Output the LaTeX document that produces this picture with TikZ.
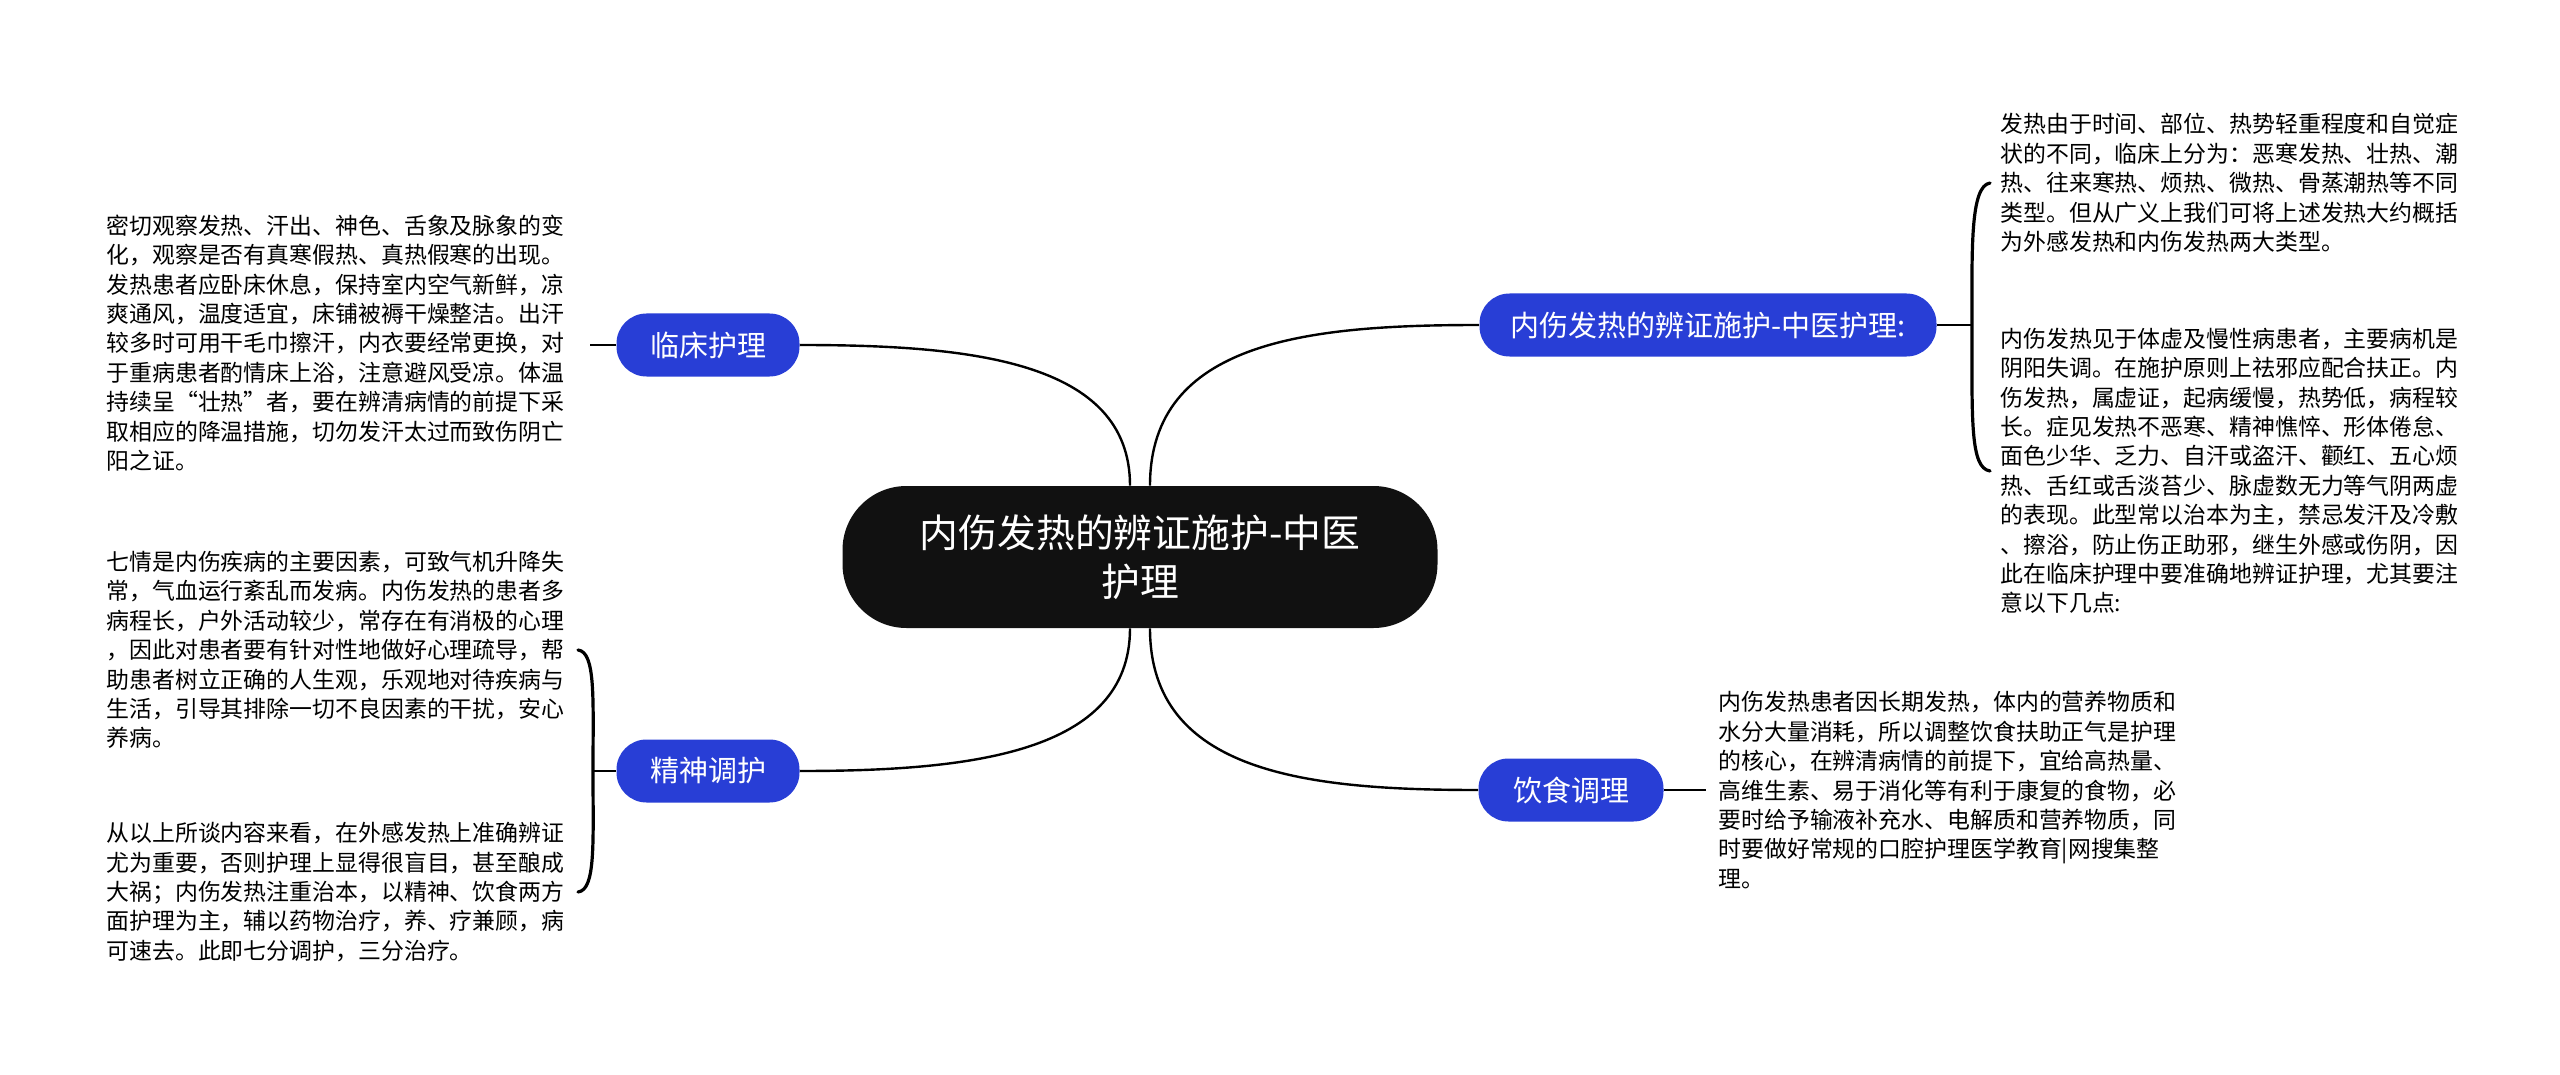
\documentclass[tikz,border=0pt]{standalone}
\usepackage{fontspec}
\setmainfont{Noto Sans CJK SC}
\usetikzlibrary{calc}
\definecolor{nodeblue}{RGB}{40,62,214}
\definecolor{rootblack}{RGB}{17,17,17}
\begin{document}
\begin{tikzpicture}[x=0.5pt,y=-0.5pt,
  rootnode/.style={fill=rootblack, rounded corners=32pt, minimum width=297.5pt, minimum height=71pt,
    text=white, font=\fontsize{19.4pt}{24.5pt}\selectfont, align=center, inner sep=0pt},
  topicnode/.style={fill=nodeblue, text=white, rounded corners=15pt, minimum height=31.5pt,
    inner sep=0pt, font=\fontsize{14.5pt}{17pt}\selectfont},
  leaftext/.style={anchor=west, align=left, inner sep=0pt, text=black,
    font=\fontsize{11.45pt}{14.7pt}\selectfont},
  linkline/.style={draw=black, line width=1.2pt},
  braceline/.style={draw=black, line width=1.6pt, line cap=round}
]
\useasboundingbox (0,0) rectangle (2560,1075);

% main nodes
\node[rootnode] (root) at (1140,557) {内伤发热的辨证施护-中医\\护理};
\node[topicnode, minimum width=91.5pt] (t1) at (708,345) {临床护理};
\node[topicnode, minimum width=91.5pt] (t2) at (708,771) {精神调护};
\node[topicnode, minimum width=228.5pt] (t3) at (1708,325) {内伤发热的辨证施护-中医护理:};
\node[topicnode, minimum width=92.5pt] (t4) at (1571,790) {饮食调理};

% leaf texts
\node[leaftext] (l1) at (106,343) {密切观察发热、汗出、神色、舌象及脉象的变\\
化，观察是否有真寒假热、真热假寒的出现。\\
发热患者应卧床休息，保持室内空气新鲜，凉\\
爽通风，温度适宜，床铺被褥干燥整洁。出汗\\
较多时可用干毛巾擦汗，内衣要经常更换，对\\
于重病患者酌情床上浴，注意避风受凉。体温\\
持续呈“壮热”者，要在辨清病情的前提下采\\
取相应的降温措施，切勿发汗太过而致伤阴亡\\
阳之证。};

\node[leaftext] (l2) at (106,650) {七情是内伤疾病的主要因素，可致气机升降失\\
常，气血运行紊乱而发病。内伤发热的患者多\\
病程长，户外活动较少，常存在有消极的心理\\
，因此对患者要有针对性地做好心理疏导，帮\\
助患者树立正确的人生观，乐观地对待疾病与\\
生活，引导其排除一切不良因素的干扰，安心\\
养病。};

\node[leaftext] (l3) at (106,892) {从以上所谈内容来看，在外感发热上准确辨证\\
尤为重要，否则护理上显得很盲目，甚至酿成\\
大祸；内伤发热注重治本，以精神、饮食两方\\
面护理为主，辅以药物治疗，养、疗兼顾，病\\
可速去。此即七分调护，三分治疗。};

\node[leaftext] (r1) at (2000,183) {发热由于时间、部位、热势轻重程度和自觉症\\
状的不同，临床上分为：恶寒发热、壮热、潮\\
热、往来寒热、烦热、微热、骨蒸潮热等不同\\
类型。但从广义上我们可将上述发热大约概括\\
为外感发热和内伤发热两大类型。};

\node[leaftext] (r2) at (2000,471) {内伤发热见于体虚及慢性病患者，主要病机是\\
阴阳失调。在施护原则上祛邪应配合扶正。内\\
伤发热，属虚证，起病缓慢，热势低，病程较\\
长。症见发热不恶寒、精神憔悴、形体倦怠、\\
面色少华、乏力、自汗或盗汗、颧红、五心烦\\
热、舌红或舌淡苔少、脉虚数无力等气阴两虚\\
的表现。此型常以治本为主，禁忌发汗及冷敷\\
、擦浴，防止伤正助邪，继生外感或伤阴，因\\
此在临床护理中要准确地辨证护理，尤其要注\\
意以下几点:};

\node[leaftext] (r3) at (1718,790) {内伤发热患者因长期发热，体内的营养物质和\\
水分大量消耗，所以调整饮食扶助正气是护理\\
的核心，在辨清病情的前提下，宜给高热量、\\
高维生素、易于消化等有利于康复的食物，必\\
要时给予输液补充水、电解质和营养物质，同\\
时要做好常规的口腔护理医学教育|网搜集整\\
理。};

% connector anchor points
\coordinate (rtl) at ($(root.north)+(-10,0)$);
\coordinate (rtr) at ($(root.north)+(10,0)$);
\coordinate (rbl) at ($(root.south)+(-10,0)$);
\coordinate (rbr) at ($(root.south)+(10,0)$);

% main connectors
\draw[linkline] (rtl) .. controls ($(rtl)+(0,-125)$) and ($(t1.east)+(170,0)$) .. (t1.east);
\draw[linkline] (rbl) .. controls ($(rbl)+(0,125)$) and ($(t2.east)+(170,0)$) .. (t2.east);
\draw[linkline] (rtr) .. controls ($(rtr)+(0,-145)$) and ($(t3.west)+(-170,0)$) .. (t3.west);
\draw[linkline] (rbr) .. controls ($(rbr)+(0,145)$) and ($(t4.west)+(-170,0)$) .. (t4.west);

% leaf connectors
\coordinate (j1) at (590,345);
\draw[linkline] (t1.west) -- (j1);

\coordinate (j2) at (593,771);
\coordinate (b2t) at (578,650);
\coordinate (b2b) at (578,892);
\draw[linkline] (t2.west) -- (j2);
\draw[braceline] (b2t) .. controls (596,652) and (593,700) .. (j2)
  .. controls (593,842) and (596,890) .. (b2b);

\coordinate (j3) at (1972,325);
\coordinate (b3t) at (1990,183);
\coordinate (b3b) at (1990,471);
\draw[linkline] (t3.east) -- (j3);
\draw[braceline] (b3t) .. controls (1970,186) and (1972,250) .. (j3)
  .. controls (1972,420) and (1970,468) .. (b3b);

\coordinate (j4) at (1706,790);
\draw[linkline] (t4.east) -- (j4);
\end{tikzpicture}
\end{document}
